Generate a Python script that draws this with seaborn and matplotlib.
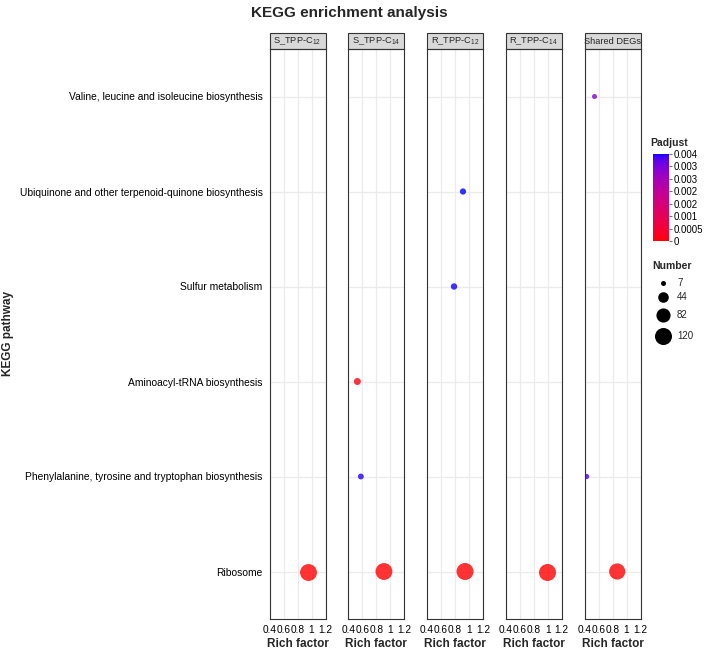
import numpy as np
import pandas as pd
import matplotlib
matplotlib.use("Agg")
import matplotlib.pyplot as plt
import seaborn as sns
from matplotlib.colors import ListedColormap, Normalize
from matplotlib.patches import Rectangle
import matplotlib.colorbar as mcolorbar

# ---------------- data ----------------
pathways = [
    "Ribosome",
    "Phenylalanine, tyrosine and tryptophan biosynthesis",
    "Aminoacyl-tRNA biosynthesis",
    "Sulfur metabolism",
    "Ubiquinone and other terpenoid-quinone biosynthesis",
    "Valine, leucine and isoleucine biosynthesis",
]
groups = ["S_TPP-C12", "S_TPP-C14", "R_TPP-C12", "R_TPP-C14", "Shared DEGs"]
group_labels = ["S_TPP-C$_{12}$", "S_TPP-C$_{14}$", "R_TPP-C$_{12}$",
                "R_TPP-C$_{14}$", "Shared DEGs"]

rec_group = ["S_TPP-C12", "S_TPP-C14", "S_TPP-C14", "S_TPP-C14",
             "R_TPP-C12", "R_TPP-C12", "R_TPP-C12", "R_TPP-C14",
             "Shared DEGs", "Shared DEGs", "Shared DEGs"]
rec_pathway = ["Ribosome", "Ribosome", "Aminoacyl-tRNA biosynthesis",
               "Phenylalanine, tyrosine and tryptophan biosynthesis",
               "Ribosome", "Ubiquinone and other terpenoid-quinone biosynthesis",
               "Sulfur metabolism", "Ribosome",
               "Ribosome", "Valine, leucine and isoleucine biosynthesis",
               "Phenylalanine, tyrosine and tryptophan biosynthesis"]
rich_factor = [0.952, 0.910, 0.530, 0.580, 0.943, 0.914, 0.786, 0.986, 0.867, 0.543, 0.430]
gene_number = [118, 118, 17, 11, 120, 13, 14, 122, 108, 7, 8]
padjust = [0.00001, 0.00001, 0.00008, 0.00345, 0.00001, 0.00350, 0.00348, 0.00001,
           0.00001, 0.00290, 0.00335]

x_ticks = [0.4, 0.6, 0.8, 1.0, 1.2]
x_ticklabels = ["0.4", "0.6", "0.8", "1", "1.2"]
cbar_ticks = [0, 0.0005, 0.001, 0.0015, 0.002, 0.0025, 0.003, 0.0035]
cbar_ticklabels = ["0", "0.0005", "0.001", "0.002", "0.002", "0.003", "0.003", "0.004"]
size_breaks = [7, 44, 82, 120]

df = pd.DataFrame({"Group": rec_group, "Pathway": rec_pathway,
                   "RichFactor": rich_factor, "Number": gene_number,
                   "Padjust": padjust})
df["y"] = df["Pathway"].map({p: i for i, p in enumerate(pathways)})

# ---------------- colormap: Lab interpolation red -> blue ----------------
def srgb_to_lab(c):
    c = np.asarray(c, float)
    lin = np.where(c <= 0.04045, c / 12.92, ((c + 0.055) / 1.055) ** 2.4)
    M = np.array([[0.4124, 0.3576, 0.1805],
                  [0.2126, 0.7152, 0.0722],
                  [0.0193, 0.1192, 0.9505]])
    xyz = M @ lin / np.array([0.95047, 1.0, 1.08883])
    f = np.where(xyz > 0.008856, np.cbrt(xyz), 7.787 * xyz + 16 / 116)
    return np.array([116 * f[1] - 16, 500 * (f[0] - f[1]), 200 * (f[1] - f[2])])

def lab_to_srgb(lab):
    L, a, b = lab
    fy_ = (L + 16) / 116
    fx_ = fy_ + a / 500
    fz_ = fy_ - b / 200
    f = np.array([fx_, fy_, fz_])
    xyz = np.where(f ** 3 > 0.008856, f ** 3, (f - 16 / 116) / 7.787)
    xyz = xyz * np.array([0.95047, 1.0, 1.08883])
    Minv = np.array([[3.2406, -1.5372, -0.4986],
                     [-0.9689, 1.8758, 0.0415],
                     [0.0557, -0.2040, 1.0570]])
    lin = np.clip(Minv @ xyz, 0, 1)
    c = np.where(lin <= 0.0031308, 12.92 * lin, 1.055 * lin ** (1 / 2.4) - 0.055)
    return np.clip(c, 0, 1)

lab_lo = srgb_to_lab([1, 0, 0])
lab_hi = srgb_to_lab([0, 0, 1])
cols = [lab_to_srgb(lab_lo + t * (lab_hi - lab_lo)) for t in np.linspace(0, 1, 256)]
cmap = ListedColormap(cols)
vmin, vmax = 0.0, 0.0035
norm = Normalize(vmin, vmax)

# size mapping (marker area in pt^2, linear in Number)
s_min, s_max = 13.0, 150.0
n_min, n_max = 7, 120
def area(n):
    return s_min + (n - n_min) / (n_max - n_min) * (s_max - s_min)

# ---------------- figure ----------------
sns.set_style("white")
plt.rcParams["font.family"] = ["Liberation Sans", "DejaVu Sans"]
plt.rcParams["mathtext.fontset"] = "custom"
plt.rcParams["mathtext.rm"] = "Liberation Sans"
plt.rcParams["mathtext.it"] = "Liberation Sans"

W, H = 708, 654
fig = plt.figure(figsize=(W / 100, H / 100), dpi=100)

def fx(px):
    return px / W

def fy(py):
    return 1 - py / H

panel_top, panel_bot = 49, 619
ph = panel_bot - panel_top
pw = 56
lefts = [269.5 + i * 78.75 for i in range(5)]
ylo, yhi = -0.5, 5.5
strip_h = 16

for i, (g, gl) in enumerate(zip(groups, group_labels)):
    ax = fig.add_axes([fx(lefts[i]), fy(panel_bot), fx(pw), ph / H])
    sub = df[df["Group"] == g]
    for xv in x_ticks:
        ax.axvline(xv, color="#EBEBEB", lw=0.9, zorder=0)
    for yv in range(len(pathways)):
        ax.axhline(yv, color="#EBEBEB", lw=0.9, zorder=0)
    sns.scatterplot(data=sub, x="RichFactor", y="y", hue="Padjust", palette=cmap,
                    hue_norm=norm, size="Number", sizes=(s_min, s_max),
                    size_norm=(n_min, n_max), alpha=0.8, linewidth=0, legend=False,
                    ax=ax, zorder=3)
    ax.set_xlim(0.4, 1.2)
    ax.set_ylim(ylo, yhi)
    ax.set_xticks(x_ticks)
    ax.set_xticklabels(x_ticklabels, fontsize=7.3)
    ax.tick_params(axis="x", length=3, width=0.6, pad=1.5, colors="#333333", labelcolor="black")
    ax.set_xlabel("Rich factor", fontsize=8.5, fontweight="bold", labelpad=2)
    ax.set_yticks(range(len(pathways)))
    if i == 0:
        ax.set_yticklabels(pathways, fontsize=7.4)
        ax.tick_params(axis="y", length=3, width=0.6, pad=2, colors="#333333", labelcolor="black")
    else:
        ax.set_yticklabels([])
        ax.tick_params(axis="y", length=0)
    ax.set_ylabel("")
    for sp in ax.spines.values():
        sp.set_visible(True)
        sp.set_color("#333333")
        sp.set_linewidth(0.8)
    ax.add_patch(Rectangle((0, 1), 1, strip_h / ph, transform=ax.transAxes,
                           facecolor="#D9D9D9", edgecolor="#333333", lw=0.8, clip_on=False))
    ax.text(0.5, 1 + strip_h / 2 / ph, gl, transform=ax.transAxes,
            ha="center", va="center", fontsize=6.7)

fig.text(fx(349), fy(13), "KEGG enrichment analysis", ha="center", va="center",
         fontsize=11, fontweight="bold")
fig.text(fx(8), fy(334), "KEGG pathway", rotation=90, ha="center", va="center",
         fontsize=8.5, fontweight="bold")

# colour bar legend
fig.text(fx(650), fy(143), "Padjust", ha="left", va="center", fontsize=7.5, fontweight="bold")
cax = fig.add_axes([fx(653), fy(241), fx(16), (241 - 154) / H])
cb = mcolorbar.ColorbarBase(cax, cmap=cmap, norm=norm, orientation="vertical")
cb.set_ticks(cbar_ticks)
cb.set_ticklabels(cbar_ticklabels)
cb.outline.set_visible(False)
cax.tick_params(labelsize=7, length=2, width=0.6, pad=1.5, colors="#555555", labelcolor="black")

# size legend
fig.text(fx(652), fy(266), "Number", ha="left", va="center", fontsize=7.5, fontweight="bold")
lax = fig.add_axes([fx(645), fy(345), fx(60), 70 / H])
lax.set_xlim(0, 60)
lax.set_ylim(345, 275)
lax.axis("off")
leg_y = [283, 297, 315, 336]
for n, yy in zip(size_breaks, leg_y):
    lax.scatter([17.7], [yy], s=area(n), color="black", linewidth=0)
    lax.text(32, yy, str(n), ha="left", va="center", fontsize=7)

fig.savefig("out.png", dpi=100)
